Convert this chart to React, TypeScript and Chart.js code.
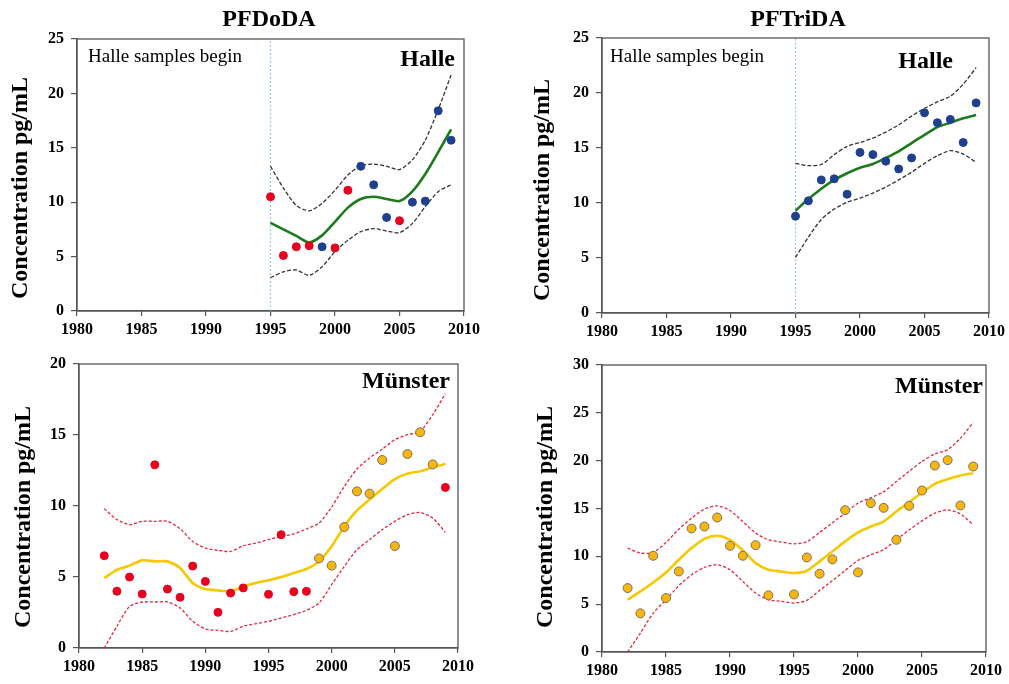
import React, { useEffect, useRef } from "react";
import { Chart, registerables } from "chart.js";

Chart.register(...registerables);

// ---------- shared ----------
const xTicks = [1980, 1985, 1990, 1995, 2000, 2005, 2010];
const yTicks25 = [0, 5, 10, 15, 20, 25];
const yTicks20 = [0, 5, 10, 15, 20];
const yTicks30 = [0, 5, 10, 15, 20, 25, 30];
const halleYears = [1995, 1996, 1997, 1998, 1999, 2000, 2001, 2002, 2003, 2004, 2005, 2006, 2007, 2008, 2009];
const munsterYears = [1982, 1983, 1984, 1985, 1986, 1987, 1988, 1989, 1990, 1991, 1992, 1993, 1994, 1995, 1996, 1997, 1998, 1999, 2000, 2001, 2002, 2003, 2004, 2005, 2006, 2007, 2008, 2009];
const halleStartYear = 1995;

// ---------- PFDoDA – Halle ----------
const doHalleRedYears = [1995, 1996, 1997, 1998, 2000, 2001, 2005];
const doHalleRedValues = [10.5, 5.1, 5.9, 6.0, 5.8, 11.1, 8.3];
const doHalleBlueYears = [1999, 2002, 2003, 2004, 2006, 2007, 2008, 2009];
const doHalleBlueValues = [5.9, 13.3, 11.6, 8.6, 10.0, 10.1, 18.4, 15.7];
const doHalleFit = [8.1, 7.5, 6.9, 6.3, 6.95, 8.2, 9.5, 10.3, 10.5, 10.3, 10.1, 11.0, 12.6, 14.6, 16.7];
const doHalleUpper = [13.3, 11.3, 9.7, 9.2, 9.9, 11.1, 12.5, 13.35, 13.5, 13.3, 13.0, 13.9, 15.7, 18.5, 21.7];
const doHalleLower = [3.06, 3.6, 3.77, 3.28, 4.07, 5.45, 6.5, 7.3, 7.57, 7.35, 7.2, 8.05, 9.6, 10.97, 11.6];

// ---------- PFTriDA – Halle ----------
const triHalleValues = [8.8, 10.2, 12.1, 12.2, 10.8, 14.6, 14.4, 13.8, 13.1, 14.1, 18.2, 17.3, 17.6, 15.5, 19.1];
const triHalleFit = [9.3, 10.36, 11.3, 12.1, 12.7, 13.2, 13.55, 14.1, 14.7, 15.45, 16.2, 16.9, 17.3, 17.7, 18.0];
const triHalleUpper = [13.6, 13.4, 13.5, 14.4, 15.15, 15.5, 15.9, 16.45, 17.1, 17.9, 18.6, 19.2, 19.7, 20.8, 22.3];
const triHalleLower = [5.06, 6.9, 8.5, 9.45, 10.06, 10.45, 10.9, 11.45, 12.1, 12.8, 13.6, 14.3, 14.76, 14.45, 13.7];

// ---------- PFDoDA – Münster ----------
const doMunRedYears = [1982, 1983, 1984, 1985, 1986, 1987, 1988, 1989, 1990, 1991, 1992, 1993, 1995, 1996, 1997, 1998, 2009];
const doMunRedValues = [6.5, 4.0, 5.0, 3.8, 12.9, 4.15, 3.57, 5.77, 4.69, 2.51, 3.87, 4.23, 3.78, 7.98, 3.97, 3.99, 11.31];
const doMunOrangeYears = [1999, 2000, 2001, 2002, 2003, 2004, 2005, 2006, 2007, 2008];
const doMunOrangeValues = [6.31, 5.8, 8.52, 11.03, 10.87, 13.24, 7.18, 13.66, 15.19, 12.93];
const doMunFit = [4.93, 5.5, 5.8, 6.17, 6.1, 6.1, 5.63, 4.58, 4.15, 4.06, 3.99, 4.34, 4.58, 4.77, 5.0, 5.28, 5.56, 6.1, 7.16, 8.57, 9.69, 10.45, 11.2, 11.9, 12.28, 12.44, 12.72, 12.96];
const doMunUpper = [9.81, 9.04, 8.69, 8.92, 8.92, 8.92, 8.4, 7.5, 7.04, 6.88, 6.8, 7.2, 7.39, 7.63, 7.86, 8.03, 8.38, 8.8, 9.93, 11.38, 12.6, 13.38, 14.0, 14.67, 15.02, 15.26, 16.43, 17.9];
const doMunLower = [0, 1.53, 2.93, 3.24, 3.24, 3.24, 2.82, 1.88, 1.34, 1.24, 1.17, 1.53, 1.71, 1.88, 2.11, 2.35, 2.65, 3.17, 4.46, 5.75, 6.92, 7.63, 8.33, 8.92, 9.39, 9.55, 9.15, 8.15];

// ---------- PFTriDA – Münster ----------
const triMunYears = [1982, 1983, 1984, 1985, 1986, 1987, 1988, 1989, 1990, 1991, 1992, 1993, 1995, 1996, 1997, 1998, 1999, 2000, 2001, 2002, 2003, 2004, 2005, 2006, 2007, 2008, 2009];
const triMunValues = [6.68, 4.04, 10.06, 5.64, 8.42, 12.91, 13.12, 14.06, 11.1, 10.06, 11.17, 5.92, 6.02, 9.88, 8.18, 9.68, 14.83, 8.32, 15.56, 15.07, 11.73, 15.28, 16.88, 19.49, 20.05, 15.32, 19.39];
const triMunFit = [5.46, 6.33, 7.27, 8.32, 9.64, 10.86, 11.83, 12.15, 11.73, 10.62, 9.29, 8.6, 8.42, 8.25, 8.49, 9.47, 10.51, 11.56, 12.5, 13.12, 13.64, 14.69, 15.66, 16.67, 17.58, 18.06, 18.45, 18.69];
const triMunUpper = [10.86, 10.34, 10.41, 11.45, 12.84, 13.99, 14.93, 15.28, 14.79, 13.64, 12.43, 11.73, 11.49, 11.31, 11.52, 12.5, 13.5, 14.51, 15.56, 16.12, 16.74, 17.82, 18.9, 19.91, 20.71, 21.13, 22.35, 23.98];
const triMunLower = [0, 1.98, 4.07, 5.46, 6.93, 8.08, 8.84, 9.12, 8.6, 7.38, 6.16, 5.46, 5.29, 5.12, 5.4, 6.44, 7.45, 8.53, 9.57, 10.16, 10.69, 11.73, 12.77, 13.71, 14.51, 14.86, 14.44, 13.3];

// ---------- styles ----------
const FONT = "'Liberation Serif', 'Times New Roman', serif";
const RED = "#e8001e";
const BLUE = "#1f3f8f";
const ORANGE = "#f8b70a";
const GREEN = "#1d7a1d";
const YELLOW = "#f6c800";
const YLABEL = "Concentration pg/mL";

const pts = (xs: number[], ys: number[]) => xs.map((x, i) => ({ x, y: ys[i] }));

const pointSet = (xs: number[], ys: number[], color: string, border: string, r: number) => ({
  type: "line" as const,
  data: pts(xs, ys),
  showLine: false,
  pointRadius: r,
  pointBackgroundColor: color,
  pointBorderColor: border,
  pointBorderWidth: 1,
  order: 0,
});

const lineSet = (xs: number[], ys: number[], color: string, width: number, dash: number[] = []) => ({
  type: "line" as const,
  data: pts(xs, ys),
  borderColor: color,
  borderWidth: width,
  borderDash: dash,
  pointRadius: 0,
  tension: 0.25,
  fill: false,
  order: 1,
});

type TextItem = { text: string; x: number; y: number; font: string; align: CanvasTextAlign; rotate?: boolean };

type PanelCfg = {
  box: { left: number; top: number; width: number; height: number };
  area: { L: number; T: number; R: number; B: number };
  yMax: number;
  yTicks: number[];
  datasets: any[];
  texts: TextItem[];
};

const textPlugin = {
  id: "panelTexts",
  beforeDatasetsDraw(chart: any) {
    const { ctx, chartArea } = chart;
    ctx.save();
    ctx.strokeStyle = "#555";
    ctx.lineWidth = 1.3;
    ctx.strokeRect(chartArea.left, chartArea.top, chartArea.right - chartArea.left, chartArea.bottom - chartArea.top);
    ctx.restore();
  },
  afterDraw(chart: any, _args: any, opts: any) {
    const { ctx } = chart;
    const items: TextItem[] = opts.items || [];
    items.forEach((t) => {
      ctx.save();
      ctx.fillStyle = "#000";
      ctx.font = t.font;
      ctx.textAlign = t.align;
      ctx.textBaseline = "middle";
      ctx.translate(t.x, t.y);
      if (t.rotate) ctx.rotate(-Math.PI / 2);
      ctx.fillText(t.text, 0, 0);
      ctx.restore();
    });
  },
};

function Panel({ cfg }: { cfg: PanelCfg }) {
  const ref = useRef<HTMLCanvasElement | null>(null);
  useEffect(() => {
    const { box, area } = cfg;
    const yW = 45;
    const xH = 30;
    const chart = new Chart(ref.current as HTMLCanvasElement, {
      type: "line",
      data: { datasets: cfg.datasets },
      plugins: [textPlugin],
      options: {
        responsive: false,
        animation: false,
        layout: {
          padding: {
            left: area.L - yW,
            top: area.T,
            right: box.width - area.R,
            bottom: box.height - area.B - xH,
          },
        },
        plugins: {
          legend: { display: false },
          tooltip: { enabled: false },
          panelTexts: { items: cfg.texts },
        } as any,
        scales: {
          x: {
            type: "linear",
            min: 1980,
            max: 2010,
            afterBuildTicks: (s: any) => {
              s.ticks = xTicks.map((v) => ({ value: v }));
            },
            afterFit: (s: any) => {
              s.height = xH;
            },
            ticks: {
              color: "#000",
              font: { family: FONT, size: 16, weight: "bold" },
              padding: 4,
              maxRotation: 0,
              callback: (v: any) => String(v),
            },
            grid: { drawOnChartArea: false, drawTicks: true, tickLength: 5, color: "#555", lineWidth: 1.2 },
            border: { display: true, color: "#555", width: 1.3 },
          },
          y: {
            type: "linear",
            min: 0,
            max: cfg.yMax,
            afterBuildTicks: (s: any) => {
              s.ticks = cfg.yTicks.map((v) => ({ value: v }));
            },
            afterFit: (s: any) => {
              s.width = yW;
            },
            ticks: {
              color: "#000",
              font: { family: FONT, size: 16, weight: "bold" },
              padding: 7,
              callback: (v: any) => String(v),
            },
            grid: { drawOnChartArea: false, drawTicks: true, tickLength: 6, color: "#555", lineWidth: 1.2 },
            border: { display: true, color: "#555", width: 1.3 },
          },
        },
      } as any,
    });
    return () => chart.destroy();
  }, [cfg]);
  const { box } = cfg;
  return (
    <canvas
      ref={ref}
      width={box.width}
      height={box.height}
      style={{ position: "absolute", left: box.left, top: box.top, width: box.width, height: box.height }}
    />
  );
}

const titleFont = `bold 24px ${FONT}`;
const labelFont = `bold 24px ${FONT}`;
const noteFont = `19px ${FONT}`;
const BLACK_DASH = [4, 2];
const RED_DASH = [3, 2];

const panels: PanelCfg[] = [
  {
    box: { left: 0, top: 0, width: 505, height: 342 },
    area: { L: 77, T: 39, R: 464, B: 311 },
    yMax: 25,
    yTicks: yTicks25,
    datasets: [
      pointSet(doHalleRedYears, doHalleRedValues, RED, RED, 4),
      pointSet(doHalleBlueYears, doHalleBlueValues, BLUE, BLUE, 4),
      lineSet(halleYears, doHalleFit, GREEN, 2.6),
      lineSet(halleYears, doHalleUpper, "#333", 1.3, BLACK_DASH),
      lineSet(halleYears, doHalleLower, "#333", 1.3, BLACK_DASH),
      lineSet([halleStartYear, halleStartYear], [0, 25], "#9cc3e6", 1.2, [2, 2]),
    ],
    texts: [
      { text: "PFDoDA", x: 269, y: 20, font: titleFont, align: "center" },
      { text: YLABEL, x: 21, y: 188, font: labelFont, align: "center", rotate: true },
      { text: "Halle samples begin", x: 88, y: 57, font: noteFont, align: "left" },
      { text: "Halle", x: 455, y: 60, font: titleFont, align: "right" },
    ],
  },
  {
    box: { left: 505, top: 0, width: 504, height: 342 },
    area: { L: 97, T: 38, R: 484, B: 313 },
    yMax: 25,
    yTicks: yTicks25,
    datasets: [
      pointSet(halleYears, triHalleValues, BLUE, BLUE, 4),
      lineSet(halleYears, triHalleFit, GREEN, 2.6),
      lineSet(halleYears, triHalleUpper, "#333", 1.3, BLACK_DASH),
      lineSet(halleYears, triHalleLower, "#333", 1.3, BLACK_DASH),
      lineSet([halleStartYear, halleStartYear], [0, 25], "#9cc3e6", 1.2, [2, 2]),
    ],
    texts: [
      { text: "PFTriDA", x: 293, y: 20, font: titleFont, align: "center" },
      { text: YLABEL, x: 38, y: 190, font: labelFont, align: "center", rotate: true },
      { text: "Halle samples begin", x: 105, y: 57, font: noteFont, align: "left" },
      { text: "Halle", x: 448, y: 62, font: titleFont, align: "right" },
    ],
  },
  {
    box: { left: 0, top: 342, width: 505, height: 342 },
    area: { L: 79, T: 22, R: 458, B: 306 },
    yMax: 20,
    yTicks: yTicks20,
    datasets: [
      pointSet(doMunRedYears, doMunRedValues, RED, RED, 4),
      pointSet(doMunOrangeYears, doMunOrangeValues, ORANGE, "#7a7066", 4.5),
      lineSet(munsterYears, doMunFit, YELLOW, 2.6),
      lineSet(munsterYears, doMunUpper, "#e0283c", 1.3, RED_DASH),
      lineSet(munsterYears, doMunLower, "#e0283c", 1.3, RED_DASH),
    ],
    texts: [
      { text: YLABEL, x: 24, y: 175, font: labelFont, align: "center", rotate: true },
      { text: "Münster", x: 450, y: 40, font: titleFont, align: "right" },
    ],
  },
  {
    box: { left: 505, top: 342, width: 504, height: 342 },
    area: { L: 97, T: 23, R: 481, B: 310 },
    yMax: 30,
    yTicks: yTicks30,
    datasets: [
      pointSet(triMunYears, triMunValues, ORANGE, "#7a7066", 4.5),
      lineSet(munsterYears, triMunFit, YELLOW, 2.6),
      lineSet(munsterYears, triMunUpper, "#e0283c", 1.3, RED_DASH),
      lineSet(munsterYears, triMunLower, "#e0283c", 1.3, RED_DASH),
    ],
    texts: [
      { text: YLABEL, x: 41, y: 175, font: labelFont, align: "center", rotate: true },
      { text: "Münster", x: 478, y: 45, font: titleFont, align: "right" },
    ],
  },
];

export default function App() {
  return (
    <div style={{ position: "absolute", left: 0, top: 0, width: 1009, height: 684, background: "#fff", overflow: "hidden" }}>
      {panels.map((p, i) => (
        <Panel key={i} cfg={p} />
      ))}
    </div>
  );
}
